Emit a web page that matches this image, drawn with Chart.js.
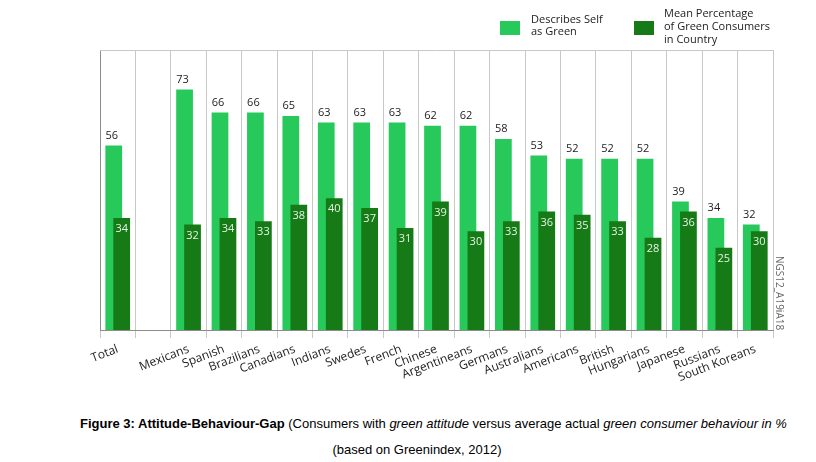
<!DOCTYPE html>
<html>
<head>
<meta charset="utf-8">
<script src="https://cdn.jsdelivr.net/npm/chart.js@4"></script>
<style>
  body { margin: 0; background: #fff; width: 816px; height: 462px; overflow: hidden; position: relative; }
  #wrap { position: absolute; left: 0; top: 0; width: 816px; height: 400px; }
  .cap { position: absolute; white-space: nowrap; color: #000;
    font-family: "Liberation Sans", Arial, sans-serif; font-size: 13px; }
  #cap1 { left: 80px; top: 416px; }
  #cap2 { left: 0; width: 834px; text-align: center; top: 442px; }
</style>
</head>
<body>
<div id="wrap"><canvas id="gapChart"></canvas></div>
<div class="cap" id="cap1"><b>Figure 3: Attitude-Behaviour-Gap</b> (Consumers with <i>green attitude</i> versus average actual <i>green consumer behaviour in %</i></div>
<div class="cap" id="cap2">(based on Greenindex, 2012)</div>
<script>
// Categories, in the order of the picture. The empty one is the gap after Total.
const GROUPS = ['Total', '', 'Mexicans', 'Spanish', 'Brazilians', 'Canadians', 'Indians',
  'Swedes', 'French', 'Chinese', 'Argentineans', 'Germans', 'Australians', 'Americans',
  'British', 'Hungarians', 'Japanese', 'Russians', 'South Koreans'];

// Describes self as green
const SELF_GREEN = [56, null, 73, 66, 66, 65, 63, 63, 63, 62, 62, 58, 53, 52, 52, 52, 39, 34, 32];
// Mean percentage of green consumers in country
const GREEN_CONSUMERS = [34, null, 32, 34, 33, 38, 40, 37, 31, 39, 30, 33, 36, 35, 33, 28, 36, 25, 30];

const LIGHT = '#27c95a';
const DARK = '#167a16';

// Chart.js paints the first dataset last, so hold back the dark bars
// and paint them after the light ones, where they overlap.
const darkOnTop = {
  id: 'darkOnTop',
  beforeDatasetDraw(chart, args) {
    if (args.index === 1) return false;
  },
  afterDatasetsDraw(chart) {
    const ctx = chart.ctx;
    const a = chart.chartArea;
    ctx.save();
    ctx.beginPath();
    ctx.rect(a.left, a.top, a.right - a.left, a.bottom - a.top);
    ctx.clip();
    chart.getDatasetMeta(1).controller.draw();
    ctx.restore();
  }
};

// Draws the bar values, the legend box and the side note.
const extras = {
  id: 'extras',
  afterDatasetsDraw(chart) {
    const ctx = chart.ctx;
    ctx.save();
    ctx.font = '11px "Open Sans", sans-serif';
    ctx.textAlign = 'center';
    ctx.textBaseline = 'middle';
    chart.getDatasetMeta(0).data.forEach((bar, i) => {
      if (SELF_GREEN[i] == null) return;
      ctx.fillStyle = '#222';
      ctx.fillText(SELF_GREEN[i], bar.x - 2, bar.y - 10);
    });
    chart.getDatasetMeta(1).data.forEach((bar, i) => {
      if (GREEN_CONSUMERS[i] == null) return;
      ctx.fillStyle = '#e4f5e4';
      ctx.fillText(GREEN_CONSUMERS[i], bar.x, bar.y + 11);
    });

    // legend
    ctx.textAlign = 'left';
    ctx.fillStyle = LIGHT;
    ctx.fillRect(500, 21, 20, 14);
    ctx.fillStyle = DARK;
    ctx.fillRect(634, 21, 20, 14);
    ctx.fillStyle = '#222';
    ctx.fillText('Describes Self', 531, 20);
    ctx.fillText('as Green', 531, 32);
    ctx.fillText('Mean Percentage', 664, 14);
    ctx.fillText('of Green Consumers', 664, 27);
    ctx.fillText('in Country', 664, 40);

    // top frame line
    const a = chart.chartArea;
    ctx.strokeStyle = '#c8c8c8';
    ctx.lineWidth = 1;
    ctx.beginPath();
    ctx.moveTo(a.left, a.top + 0.5);
    ctx.lineTo(a.right, a.top + 0.5);
    ctx.stroke();

    // side note
    ctx.translate(779, 256);
    ctx.rotate(Math.PI / 2);
    ctx.font = '10px "Open Sans", sans-serif';
    ctx.fillStyle = '#666';
    ctx.fillText('NGS12_A19iA18', 0, 0);
    ctx.restore();
  }
};

new Chart(document.getElementById('gapChart'), {
  type: 'bar',
  data: {
    labels: GROUPS,
    datasets: [{
      label: 'Describes Self as Green',
      data: SELF_GREEN,
      backgroundColor: LIGHT,
    }, {
      label: 'Mean Percentage of Green Consumers in Country',
      data: GREEN_CONSUMERS,
      backgroundColor: DARK,
    }],
  },
  options: {
    responsive: true,
    maintainAspectRatio: false,
    animation: false,
    categoryPercentage: 0.45,
    barPercentage: 2.1,
    layout: { padding: { left: 100, right: 43, top: 50, bottom: 0 } },
    plugins: {
      legend: { display: false },
      tooltip: { enabled: false },
    },
    scales: {
      x: {
        grid: { display: true, offset: true, color: '#c8c8c8', tickLength: 8 },
        border: { color: '#8c8c8c' },
        ticks: {
          color: '#222',
          font: { family: '"Open Sans", sans-serif', size: 12 },
          minRotation: 21,
          maxRotation: 21,
          autoSkip: false,
          padding: 4,
        },
        afterFit(scale) { scale.height = 70; },
      },
      y: {
        min: 0,
        max: 85,
        grid: { display: false },
        border: { display: true, color: '#8c8c8c' },
        ticks: { display: false },
        afterFit(scale) { scale.width = 0; },
      },
    },
  },
  plugins: [darkOnTop, extras],
});
</script>
</body>
</html>
